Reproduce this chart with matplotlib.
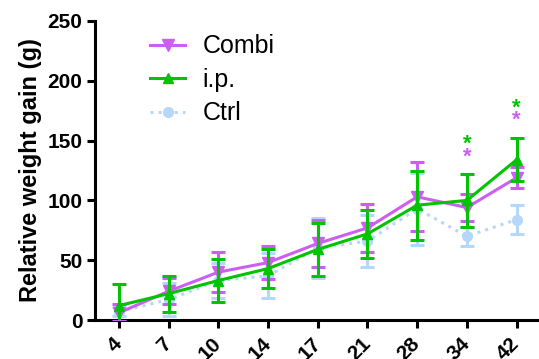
import matplotlib
matplotlib.use("Agg")
import matplotlib.pyplot as plt
import numpy as np

plt.rcParams["font.family"] = ["Liberation Sans", "DejaVu Sans"]

days = ["4", "7", "10", "14", "17", "21", "28", "34", "42"]

combi_mean = [6, 24, 40, 48, 64, 77, 103, 94, 119]
combi_sem = [7, 11, 17, 14, 20, 20, 29, 11, 9]

ip_mean = [12, 22, 33, 43, 59, 72, 96, 100, 134]
ip_sem = [18, 15, 18, 16, 22, 20, 29, 22, 18]

ctrl_mean = [7, 17, 33, 37, 60, 66, 93, 70, 84]
ctrl_sem = [4, 14, 15, 19, 25, 22, 30, 8, 12]

# significance stars: (day index, y)
stars_ip = [(7, 147), (8, 177)]
stars_combi = [(7, 136), (8, 167)]

c_combi = "#CC5EF2"
c_ip = "#00C400"
c_ctrl = "#B5D8FA"

fig = plt.figure(figsize=(5.39, 3.59), dpi=100)
ax = fig.add_axes([95 / 539, 39 / 359, 444 / 539, 299 / 359])

x = np.arange(len(days))

# control group underneath
ax.errorbar(x, ctrl_mean, yerr=ctrl_sem, fmt="none", ecolor=c_ctrl,
            elinewidth=2.2, capsize=5, capthick=2.2, zorder=1)
l_ctrl, = ax.plot(x, ctrl_mean, ":", color=c_ctrl, lw=2.2, marker="o",
                  ms=7, zorder=2)

ax.errorbar(x, combi_mean, yerr=combi_sem, fmt="none", ecolor=c_combi,
            elinewidth=2.2, capsize=5, capthick=2.2, zorder=3)
l_combi, = ax.plot(x, combi_mean, "-", color=c_combi, lw=2.2, marker="v",
                   ms=8, zorder=4)

ax.errorbar(x, ip_mean, yerr=ip_sem, fmt="none", ecolor=c_ip,
            elinewidth=2.2, capsize=5, capthick=2.2, zorder=5)
l_ip, = ax.plot(x, ip_mean, "-", color=c_ip, lw=2.2, marker="^",
                ms=7, zorder=6)

for i, y in stars_ip:
    ax.text(x[i], y, "*", color=c_ip, fontsize=16, ha="center",
            va="center", fontweight="bold")
for i, y in stars_combi:
    ax.text(x[i], y, "*", color=c_combi, fontsize=16, ha="center",
            va="center", fontweight="bold")

ax.set_xlim(-0.48, 8.45)
ax.set_ylim(0, 250)
ax.set_yticks([0, 50, 100, 150, 200, 250])
ax.set_xticks(x)
ax.set_xticklabels(days, rotation=45, ha="right", va="center",
                   rotation_mode="anchor")

for s in ["top", "right"]:
    ax.spines[s].set_visible(False)
for s in ["left", "bottom"]:
    ax.spines[s].set_linewidth(2.2)
ax.tick_params(width=2.2, length=6, labelsize=15, pad=3)
ax.tick_params(axis="x", pad=9)
for lab in ax.get_xticklabels() + ax.get_yticklabels():
    lab.set_fontweight("bold")

ax.set_ylabel("Relative weight gain (g)", fontsize=17, fontweight="bold",
              labelpad=4)

ax.legend([l_combi, l_ip, l_ctrl], ["Combi", "i.p.", "Ctrl"],
          loc="upper left", bbox_to_anchor=(0.124, 0.955), frameon=False,
          fontsize=18, handlelength=1.4, handletextpad=0.7,
          labelspacing=0.38, borderpad=0, borderaxespad=0)

fig.savefig("out.png", dpi=100)
